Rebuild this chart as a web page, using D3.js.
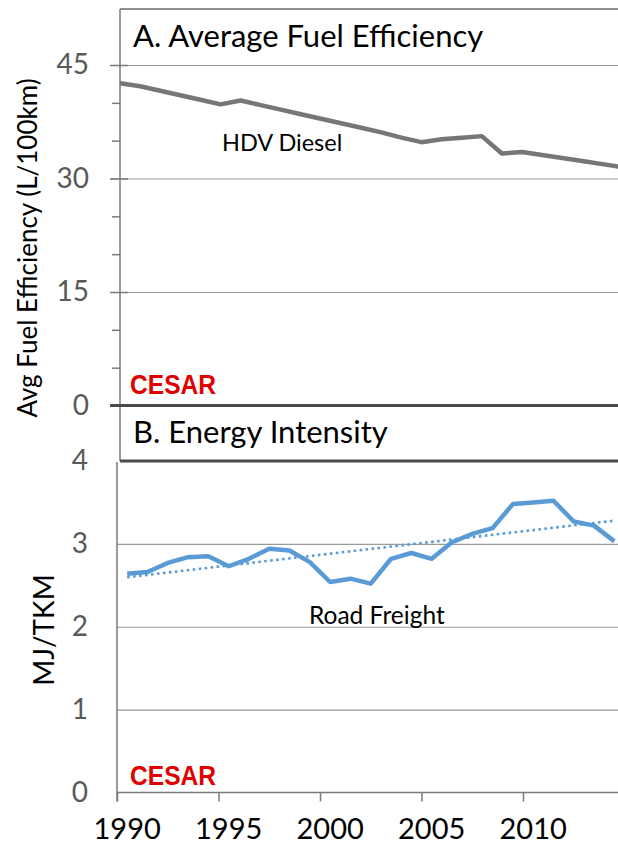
<!DOCTYPE html>
<html>
<head>
<meta charset="utf-8">
<script src="https://cdn.jsdelivr.net/npm/d3@7"></script>
<style>
  body { margin: 0; background: #fff; }
  text { font-family: Lato, "Open Sans", sans-serif; }
</style>
</head>
<body>
<div id="chart"></div>
<script>
// ---- data ----
var fuelYears = [1990, 1991, 1992, 1993, 1994, 1995, 1996, 1997, 1998, 1999, 2000, 2001, 2002,
                 2003, 2004, 2005, 2006, 2007, 2008, 2009, 2010, 2011, 2012, 2013, 2014, 2015];
var hdvDiesel = [42.6, 42.2, 41.6, 41.0, 40.4, 39.8, 40.3, 39.7, 39.1, 38.5, 37.9, 37.3, 36.7,
                 36.1, 35.4, 34.8, 35.2, 35.4, 35.6, 33.3, 33.5, 33.1, 32.7, 32.3, 31.9, 31.5];
var fuelTicks = [0, 15, 30, 45];
var fuelMinor = [5, 10, 20, 25, 35, 40];

var freightYears = d3.range(1990, 2015).map(String);
var roadFreight = [2.64, 2.66, 2.77, 2.84, 2.85, 2.73, 2.82, 2.94, 2.92, 2.78, 2.54, 2.58, 2.52,
                   2.82, 2.89, 2.82, 3.02, 3.12, 3.19, 3.48, 3.50, 3.52, 3.27, 3.22, 3.03];
var intensityTicks = [0, 1, 2, 3, 4];
var yearTicks = ["1990", "1995", "2000", "2005", "2010"];

var W = 618, H = 844;
var svg = d3.select("#chart").append("svg")
    .attr("width", W)
    .attr("height", H);
svg.append("rect").attr("width", W).attr("height", H).attr("fill", "#fff");

// ================= A. fuel efficiency =================
var xTop = d3.scaleLinear().domain([1990, 2015]).range([120, 120 + 25 * 20.1]);
var yTop = d3.scaleLinear().domain([0, 45]).range([405.5, 65]);

// gridlines (15, 30, 45)
svg.append("g")
    .attr("transform", "translate(110,0)")
    .call(d3.axisLeft(yTop).tickValues([15, 30, 45]).tickSize(-(W - 110)).tickFormat(""))
    .call(function (g) { g.select(".domain").remove(); })
    .selectAll("line").attr("stroke", "#9a9a9a").attr("stroke-width", 1.2);

// major cross ticks
svg.append("g")
    .attr("transform", "translate(110,0)")
    .call(d3.axisLeft(yTop).tickValues(fuelTicks).tickSize(-18).tickFormat(""))
    .call(function (g) { g.select(".domain").remove(); })
    .selectAll("line").attr("stroke", "#7a7a7a").attr("stroke-width", 1.5);

// minor ticks
svg.append("g")
    .attr("transform", "translate(120,0)")
    .call(d3.axisLeft(yTop).tickValues(fuelMinor).tickSize(8).tickFormat(""))
    .call(function (g) { g.select(".domain").remove(); })
    .selectAll("line").attr("stroke", "#7a7a7a").attr("stroke-width", 1.5);

// tick labels
var topLabels = svg.append("g")
    .attr("transform", "translate(120,0)")
    .call(d3.axisLeft(yTop).tickValues(fuelTicks).tickSize(0).tickPadding(31));
topLabels.select(".domain").remove();
topLabels.selectAll("text")
    .style("font-family", "Lato, sans-serif")
    .style("font-size", "28px")
    .attr("fill", "#595959");

// frame: top border, left axis, thick zero line
svg.append("line").attr("x1", 120).attr("x2", W).attr("y1", 9).attr("y2", 9)
    .attr("stroke", "#6a6a6a").attr("stroke-width", 1.5);
svg.append("line").attr("x1", 120).attr("x2", 120).attr("y1", 9).attr("y2", 461)
    .attr("stroke", "#7a7a7a").attr("stroke-width", 1.5);
svg.append("line").attr("x1", 110).attr("x2", W).attr("y1", yTop(0)).attr("y2", yTop(0))
    .attr("stroke", "#4a4a4a").attr("stroke-width", 3);

// HDV line
var hdvLine = d3.line()
    .x(function (d, i) { return xTop(fuelYears[i]); })
    .y(function (d) { return yTop(d); });
svg.append("path")
    .datum(hdvDiesel)
    .attr("d", hdvLine)
    .attr("fill", "none")
    .attr("stroke", "#767676")
    .attr("stroke-width", 4.5)
    .attr("stroke-linejoin", "round");

svg.append("text").attr("x", 133).attr("y", 47)
    .style("font-size", "31px").attr("fill", "#000")
    .text("A. Average Fuel Efficiency");
svg.append("text").attr("x", 222).attr("y", 151)
    .style("font-size", "23.5px").attr("fill", "#000")
    .text("HDV Diesel");

// y title (top)
svg.append("text")
    .attr("transform", "translate(37,248) rotate(-90)")
    .attr("text-anchor", "middle")
    .style("font-size", "26px").attr("fill", "#000")
    .text("Avg Fuel Efficiency (L/100km)");

// ================= B. energy intensity =================
var xBot = d3.scaleBand().domain(freightYears).range([117, 117 + 25 * 20.3]);
var xEdge = d3.scaleLinear().domain([1990, 2015]).range([117, 117 + 25 * 20.3]);
var yBot = d3.scaleLinear().domain([0, 4]).range([792.5, 461]);

svg.append("g")
    .attr("transform", "translate(117,0)")
    .call(d3.axisLeft(yBot).tickValues([1, 2, 3]).tickSize(-(W - 117)).tickFormat(""))
    .call(function (g) { g.select(".domain").remove(); })
    .selectAll("line").attr("stroke", "#9a9a9a").attr("stroke-width", 1.2);

var botLabels = svg.append("g")
    .attr("transform", "translate(117,0)")
    .call(d3.axisLeft(yBot).tickValues(intensityTicks).tickFormat(d3.format("d"))
        .tickSize(0).tickPadding(29));
botLabels.select(".domain").remove();
botLabels.selectAll("text")
    .style("font-family", "Lato, sans-serif")
    .style("font-size", "28px")
    .attr("fill", "#595959");

// x axis ticks at category edges
svg.append("g")
    .attr("transform", "translate(0," + yBot(0) + ")")
    .call(d3.axisBottom(xEdge).tickValues([1990, 1995, 2000, 2005, 2010, 2015]).tickSize(9).tickFormat(""))
    .call(function (g) { g.select(".domain").remove(); })
    .selectAll("line").attr("stroke", "#7a7a7a").attr("stroke-width", 1.5);

var xLabels = svg.append("g")
    .attr("transform", "translate(0," + yBot(0) + ")")
    .call(d3.axisBottom(xBot).tickValues(yearTicks).tickSize(0).tickPadding(26));
xLabels.select(".domain").remove();
xLabels.selectAll("text")
    .style("font-family", "Lato, sans-serif")
    .style("font-size", "29px")
    .attr("fill", "#000");

svg.append("line").attr("x1", 117).attr("x2", W).attr("y1", yBot(0)).attr("y2", yBot(0))
    .attr("stroke", "#7a7a7a").attr("stroke-width", 1.5);
svg.append("line").attr("x1", 117).attr("x2", 117).attr("y1", 462).attr("y2", yBot(0) + 9)
    .attr("stroke", "#7a7a7a").attr("stroke-width", 1.5);

// header box B bottom edge
svg.append("line").attr("x1", 120).attr("x2", W).attr("y1", 461).attr("y2", 461)
    .attr("stroke", "#4a4a4a").attr("stroke-width", 3);

// linear trend of road freight
var n = roadFreight.length;
var mx = (n - 1) / 2, my = d3.mean(roadFreight);
var sxy = d3.sum(roadFreight, function (d, i) { return (i - mx) * (d - my); });
var sxx = d3.sum(roadFreight, function (d, i) { return (i - mx) * (i - mx); });
var slope = sxy / sxx;
var trend = [0, n - 1].map(function (i) { return { i: i, v: my + slope * (i - mx) }; });

var half = xBot.bandwidth() / 2;
svg.append("path")
    .datum(trend)
    .attr("d", d3.line()
        .x(function (d) { return xBot(freightYears[d.i]) + half; })
        .y(function (d) { return yBot(d.v); }))
    .attr("fill", "none")
    .attr("stroke", "#5b9bd5")
    .attr("stroke-width", 2.6)
    .attr("stroke-dasharray", "2.6,3.4");

svg.append("path")
    .datum(roadFreight)
    .attr("d", d3.line()
        .x(function (d, i) { return xBot(freightYears[i]) + half; })
        .y(function (d) { return yBot(d); }))
    .attr("fill", "none")
    .attr("stroke", "#5b9bd5")
    .attr("stroke-width", 4.5)
    .attr("stroke-linejoin", "round");

svg.append("text").attr("x", 133).attr("y", 443)
    .style("font-size", "31px").attr("fill", "#000")
    .text("B. Energy Intensity");
svg.append("text").attr("x", 309).attr("y", 624)
    .style("font-size", "24.5px").attr("fill", "#000")
    .text("Road Freight");

svg.append("text")
    .attr("transform", "translate(54,630) rotate(-90)")
    .attr("text-anchor", "middle")
    .style("font-size", "28px").attr("fill", "#000")
    .text("MJ/TKM");

// CESAR marks
[394, 785].forEach(function (yb) {
    svg.append("text")
        .attr("x", 130).attr("y", yb)
        .attr("textLength", 86).attr("lengthAdjust", "spacingAndGlyphs")
        .style("font-family", "'Liberation Sans Narrow', 'Liberation Sans', sans-serif")
        .style("font-weight", "bold")
        .style("font-size", "27px")
        .attr("fill", "#e00000")
        .text("CESAR");
});
</script>
</body>
</html>
